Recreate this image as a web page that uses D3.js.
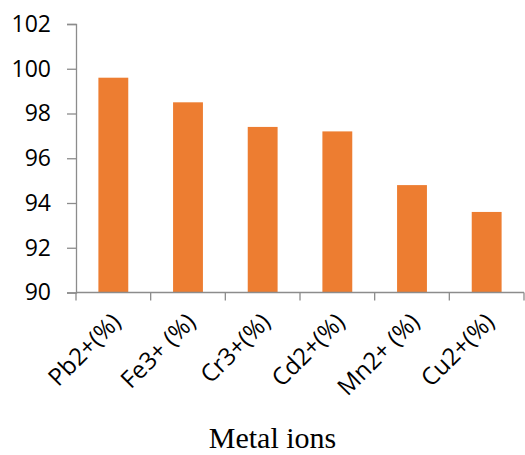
<!DOCTYPE html>
<html>
<head>
<meta charset="utf-8">
<script src="https://cdn.jsdelivr.net/npm/d3@7/dist/d3.min.js"></script>
<style>
  html, body { margin: 0; padding: 0; background: #fff; }
  svg { display: block; }
</style>
</head>
<body>
<svg id="chart" width="525" height="455"></svg>
<script>
// Removal efficiency per metal ion
const categories = ["Pb2+(%)", "Fe3+ (%)", "Cr3+(%)", "Cd2+(%)", "Mn2+ (%)", "Cu2+(%)"];
const values = [99.6, 98.5, 97.4, 97.2, 94.8, 93.6];
const yTicks = [90, 92, 94, 96, 98, 100, 102];
const xTitle = "Metal ions";

const svg = d3.select("#chart");
const plotLeft = 76, plotRight = 524, plotTop = 24, plotBottom = 292.5;
const axisColor = "#8c8c8c";

const x = d3.scaleBand().domain(categories).range([plotLeft, plotRight]).paddingInner(0.6).paddingOuter(0.3);
const y = d3.scaleLinear().domain([90, 102]).range([plotBottom, plotTop]);

// bars
svg.append("g").selectAll("rect")
  .data(categories)
  .join("rect")
  .attr("x", d => x(d))
  .attr("width", x.bandwidth())
  .attr("y", (d, i) => y(values[i]))
  .attr("height", (d, i) => y(90) - y(values[i]))
  .attr("fill", "#ED7D31");

// y axis
const yAxis = svg.append("g")
  .attr("transform", `translate(${plotLeft},0)`)
  .call(d3.axisLeft(y).tickValues(yTicks).tickSize(9).tickPadding(16).tickFormat(d3.format("d")));
yAxis.select(".domain").attr("stroke", axisColor).attr("stroke-width", 1.3);
yAxis.selectAll(".tick line").attr("stroke", axisColor).attr("stroke-width", 1.3);
yAxis.selectAll(".tick text")
  .attr("fill", "#000")
  .style("font-family", "'Open Sans', sans-serif")
  .style("font-size", "23px");

// x axis: ticks sit on category boundaries
const step = (plotRight - plotLeft) / categories.length;
const xg = svg.append("g");
xg.append("line")
  .attr("x1", plotLeft).attr("x2", plotRight)
  .attr("y1", plotBottom).attr("y2", plotBottom)
  .attr("stroke", axisColor).attr("stroke-width", 1.3);
xg.selectAll("line.tick")
  .data(d3.range(categories.length + 1))
  .join("line")
  .attr("class", "tick")
  .attr("x1", i => plotLeft + i * step).attr("x2", i => plotLeft + i * step)
  .attr("y1", plotBottom).attr("y2", plotBottom + 8)
  .attr("stroke", axisColor).attr("stroke-width", 1.3);

// rotated category labels
xg.selectAll("text")
  .data(categories)
  .join("text")
  .attr("transform", d => `translate(${x(d) + x.bandwidth() / 2 + 9},${plotBottom + 31}) rotate(-45)`)
  .attr("text-anchor", "end")
  .style("font-family", "'Open Sans', sans-serif")
  .style("font-size", "24px")
  .attr("fill", "#000")
  .text(d => d);

// axis title
svg.append("text")
  .attr("x", 272.5)
  .attr("y", 448)
  .attr("text-anchor", "middle")
  .style("font-family", "'Liberation Serif', 'Times New Roman', serif")
  .style("font-size", "30px")
  .attr("fill", "#000")
  .text(xTitle);
</script>
</body>
</html>
